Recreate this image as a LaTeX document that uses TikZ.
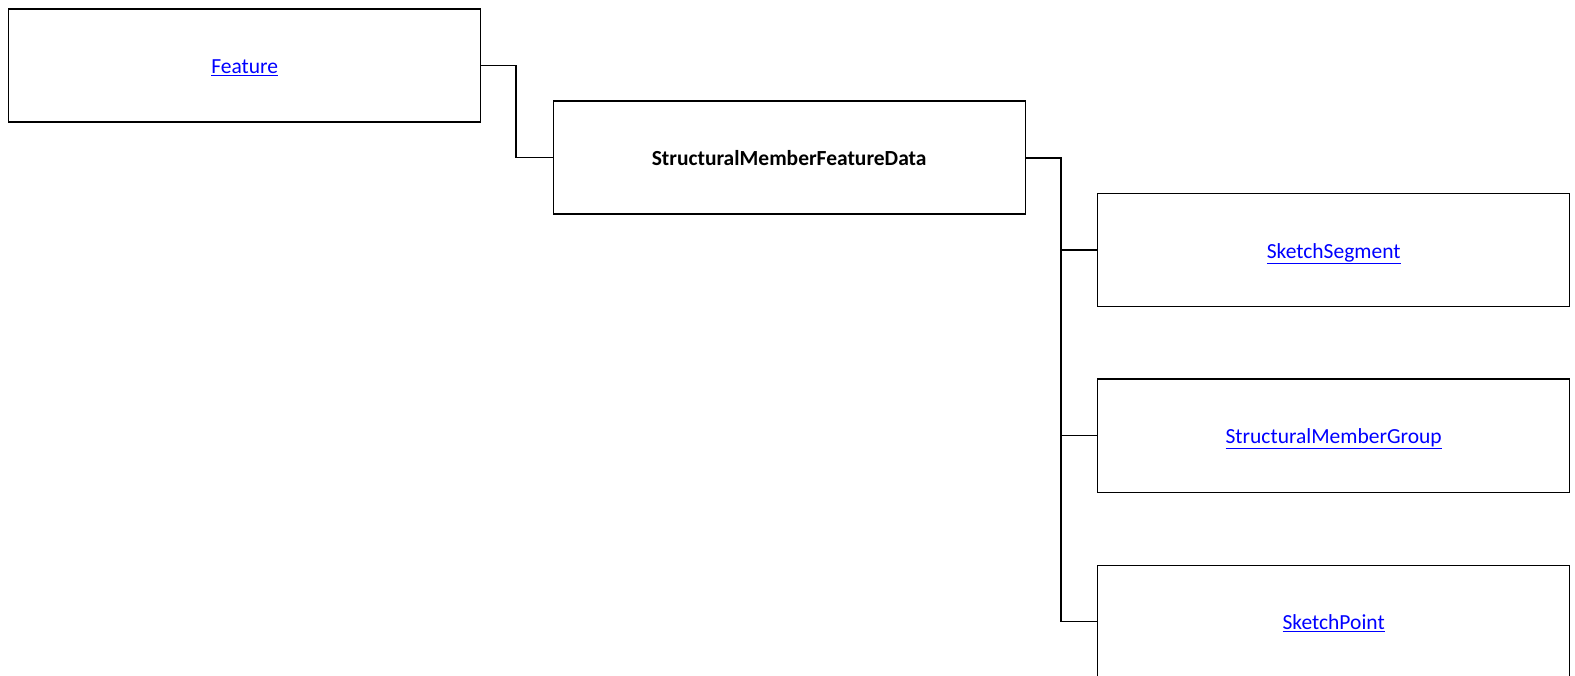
\documentclass[tikz,border=0pt]{standalone}
\usepackage{fontspec}
\setmainfont{Carlito}
\begin{document}
\begin{tikzpicture}[x=1pt,y=-1pt,
  box/.style={draw=black, line width=1.3pt, fill=white, minimum width=472pt, minimum height=113pt, anchor=north west, inner sep=0pt, text height=20pt, text depth=4pt, font=\fontsize{21.5}{25}\selectfont},
  linkbox/.style={box, text=linkblue},
  conn/.style={draw=black, line width=1.7pt},
  busline/.style={draw=black, line width=2.1pt},
  branch/.style={draw=black, line width=1.6pt}]
\definecolor{linkblue}{RGB}{0,0,255}
\useasboundingbox (0,0) rectangle (1575,676);
\node[linkbox] (feat) at (8,8.5) {\underline{Feature}};
\node[box] (smfd) at (552.5,100.5) {\bfseries StructuralMemberFeatureData};
\node[linkbox] (seg) at (1097,193) {\underline{SketchSegment}};
\node[linkbox] (grp) at (1097,378.5) {\underline{StructuralMemberGroup}};
\node[linkbox] (pt) at (1097,564.5) {\underline{SketchPoint}};
\coordinate (bus) at (1060.8,0);
\coordinate (elb) at (516.3,0);
\draw[conn] (feat.east) -| (elb |- smfd.west) -- (smfd.west);
\draw[busline] (smfd.east) -| (bus |- pt.west);
\draw[branch] (bus |- seg.west) -- (seg.west);
\draw[branch] (bus |- grp.west) -- (grp.west);
\draw[branch] (bus |- pt.west) -- (pt.west);
\end{tikzpicture}
\end{document}
